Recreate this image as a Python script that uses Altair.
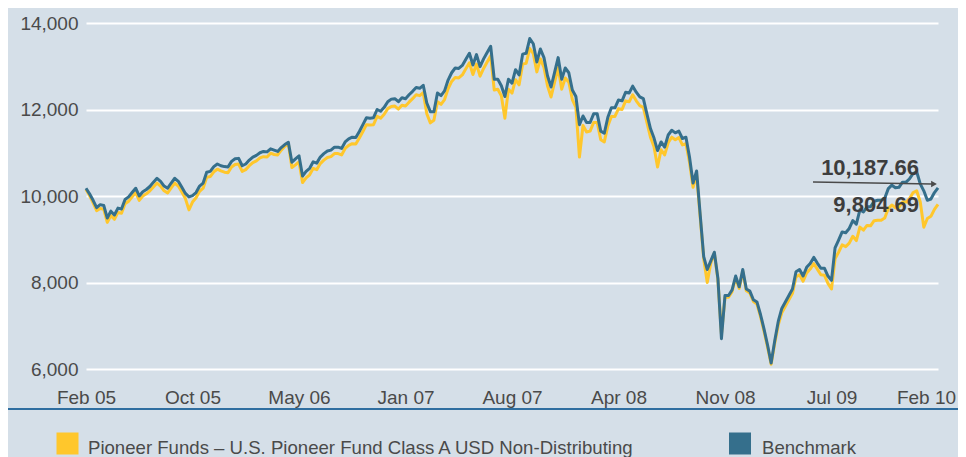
import json
import numpy as np
import pandas as pd
import altair as alt

FUND = "Pioneer Funds – U.S. Pioneer Fund Class A USD Non-Distributing"
BENCH = "Benchmark"

x_labels = ["Feb 05", "Oct 05", "May 06", "Jan 07", "Aug 07", "Apr 08", "Nov 08", "Jul 09", "Feb 10"]
y_ticks = [6000, 8000, 10000, 12000, 14000]

# weekly observations (quarter-month steps), Feb 05 .. Feb 10
bench = [
    10180, 10050, 9900, 9730, 9800, 9780, 9490, 9650, 9560, 9720,
    9700, 9920, 9980, 10080, 10180, 10000, 10100, 10150, 10220, 10320,
    10410, 10340, 10230, 10180, 10300, 10410, 10340, 10200, 10060, 9980,
    10010, 10080, 10230, 10300, 10550, 10570, 10680, 10740, 10700, 10680,
    10670, 10800, 10860, 10870, 10700, 10740, 10830, 10900, 10940, 11000,
    11030, 11020, 11090, 11060, 11030, 11120, 11190, 11240, 10780, 10860,
    10930, 10460, 10570, 10640, 10790, 10760, 10900, 10980, 11040, 11060,
    11130, 11130, 11100, 11250, 11320, 11360, 11350, 11490, 11650, 11810,
    11800, 11810, 12000, 11960, 12050, 12180, 12240, 12250, 12180, 12270,
    12250, 12340, 12420, 12510, 12490, 12560, 12150, 11950, 11950, 12380,
    12320, 12430, 12680, 12850, 12960, 12950, 13020, 13160, 13300, 13030,
    13270, 12990, 13170, 13320, 13460, 12700, 12700, 12550, 12300, 12700,
    12610, 12920, 12800, 13280, 13300, 13640, 13520, 13100, 13400, 13200,
    12780, 12520, 12860, 13200, 12700, 12960, 12850, 12450, 12300, 11650,
    11850, 11700, 11700, 11900, 11900, 11500, 11450, 11820, 12040, 12040,
    12220, 12200, 12400, 12380, 12540, 12400, 12290, 12250, 11900, 11560,
    11340, 11050, 11250, 11130, 11410, 11520, 11460, 11500, 11330, 11360,
    10900, 10300, 10580, 9580, 8600, 8300, 8500, 8700, 8100, 6700,
    7700, 7700, 7830, 8150, 7900, 8300, 7850, 7800, 7600, 7550,
    7260, 6920, 6550, 6140, 6650, 7100, 7400, 7550, 7700, 7850,
    8250, 8300, 8150, 8350, 8440, 8580, 8450, 8330, 8330, 8150,
    8050, 8800, 8980, 9170, 9150, 9250, 9430, 9350, 9680, 9630,
    9750, 9750, 9880, 9900, 9900, 9950, 10170, 10250, 10190, 10200,
    10320, 10320, 10400, 10520, 10560, 10280, 10120, 9900, 9930, 10080,
    10187.66,
]

fund = [
    10150, 10010, 9840, 9660, 9710, 9690, 9390, 9550, 9460, 9620,
    9600, 9820, 9880, 9980, 10080, 9900, 10000, 10050, 10120, 10210,
    10300, 10230, 10120, 10070, 10190, 10300, 10230, 10090, 9940, 9680,
    9860, 9960, 10110, 10180, 10430, 10450, 10560, 10620, 10580, 10550,
    10540, 10670, 10730, 10740, 10570, 10610, 10700, 10770, 10810, 10880,
    10910, 10900, 10990, 10960, 10950, 11060, 11150, 11210, 10660, 10720,
    10790, 10310, 10420, 10490, 10640, 10610, 10750, 10830, 10890, 10910,
    10980, 10980, 10950, 11100, 11170, 11210, 11200, 11340, 11490, 11650,
    11640, 11650, 11840, 11800, 11890, 12020, 12070, 12080, 12010, 12100,
    12080, 12170, 12250, 12340, 12320, 12390, 11900, 11690, 11750, 12180,
    12120, 12230, 12480, 12650, 12740, 12730, 12800, 12940, 13080, 12810,
    13050, 12770, 12950, 13100, 13240, 12450, 12470, 12320, 11800, 12470,
    12380, 12690, 12570, 13050, 13070, 13410, 13290, 12870, 13170, 12970,
    12550, 12290, 12630, 12970, 12470, 12730, 12630, 12230, 12050, 10900,
    11630, 11480, 11500, 11700, 11700, 11300, 11250, 11620, 11840, 11840,
    12020, 12000, 12200, 12180, 12340, 12200, 12090, 12050, 11700, 11360,
    11140, 10670, 11070, 10950, 11230, 11360, 11300, 11350, 11180, 11210,
    10780, 10200, 10500, 9520, 8550, 8000, 8450, 8680, 8060, 6800,
    7660, 7660, 7790, 8110, 7860, 8260, 7810, 7760, 7560, 7500,
    7210, 6870, 6500, 6110, 6590, 7020, 7300, 7450, 7600, 7750,
    8130, 8180, 8030, 8220, 8310, 8440, 8310, 8180, 8170, 7980,
    7850, 8550, 8700, 8870, 8830, 8910, 9070, 8970, 9280, 9210,
    9320, 9310, 9430, 9440, 9440, 9490, 9710, 9790, 9730, 9740,
    9860, 9860, 9940, 10080, 10120, 9860, 9280, 9480, 9530, 9690,
    9804.69,
]

months = np.arange(len(bench)) * 0.25  # months since Feb 05

df = pd.concat([
    pd.DataFrame({"t": months, "v": fund, "series": FUND}),
    pd.DataFrame({"t": months, "v": bench, "series": BENCH}),
])

FONT = "Liberation Sans"
TXT = "#4a4a4a"
BG = "#d5dfe8"
YELLOW = "#ffc72c"
BLUE = "#356f8c"

label_expr = json.dumps(x_labels) + "[round(datum.value / 7.5)]"

color = alt.Color(
    "series:N",
    scale=alt.Scale(domain=[FUND, BENCH], range=[YELLOW, BLUE]),
    legend=None,
)

x = alt.X(
    "t:Q",
    scale=alt.Scale(domain=[0, 60], nice=False, zero=False),
    axis=alt.Axis(
        values=[i * 7.5 for i in range(len(x_labels))], labelExpr=label_expr,
        grid=False, ticks=False, tickSize=0, domain=False, title=None,
        labelFontSize=19, labelFont=FONT, labelColor=TXT, labelPadding=19,
        labelFlush=False, labelOverlap=False,
        labelOffset={"condition": {"test": "datum.value >= 60", "value": -12}, "value": 0},
    ),
)
y = alt.Y(
    "v:Q",
    scale=alt.Scale(domain=[6000, 14000], nice=False, zero=False),
    axis=alt.Axis(
        values=y_ticks, format=",.0f", grid=True, gridColor="white", gridWidth=2,
        ticks=False, tickSize=0, domain=False, title=None,
        labelFontSize=19, labelFont=FONT, labelColor=TXT, labelPadding=8,
    ),
)

base = alt.Chart(df)
fund_line = base.transform_filter(alt.datum.series == FUND).mark_line(
    strokeWidth=3, strokeJoin="round").encode(x=x, y=y, color=color)
bench_line = base.transform_filter(alt.datum.series == BENCH).mark_line(
    strokeWidth=3, strokeJoin="round").encode(x=x, y=y, color=color)

bottom_rule = alt.Chart(pd.DataFrame({"a": [0]})).mark_rule(
    color="#2f6ea0", strokeWidth=2).encode(
    x=alt.value(-80), x2=alt.value(900), y=alt.value(386))

# legend (built by hand: squares + labels)
leg = pd.DataFrame({
    "series": [FUND, BENCH],
    "sx": [-18.5, 654],
    "tx": [2, 676],
})
leg_sq = alt.Chart(leg).mark_square(size=484, opacity=1, strokeWidth=0).encode(
    x=alt.X("sx:Q", scale=None), y=alt.value(420.5), color=color)
leg_tx = alt.Chart(leg).mark_text(
    font=FONT, fontSize=18.6, color=TXT, align="left", baseline="alphabetic").encode(
    x=alt.X("tx:Q", scale=None), y=alt.value(431), text="series:N")

ann = pd.DataFrame({
    "txt": [f"{bench[-1]:,.2f}", f"{fund[-1]:,.2f}"],
    "yy": [152, 189],
})
ann_text = alt.Chart(ann).mark_text(
    font=FONT, fontSize=22, fontWeight="bold", color="#3d3d3d",
    align="right", baseline="alphabetic").encode(
    x=alt.value(833), y=alt.Y("yy:Q", scale=None), text="txt:N")

arrow_line = alt.Chart(pd.DataFrame({"a": [0]})).mark_rule(
    color="#4a4a4a", strokeWidth=1.5).encode(
    x=alt.value(727), x2=alt.value(846), y=alt.value(159), y2=alt.value(161))
arrow_head = alt.Chart(pd.DataFrame({"a": [0]})).mark_point(
    shape="triangle-right", filled=True, color="#4a4a4a", size=45, opacity=1).encode(
    x=alt.value(848), y=alt.value(161))

chart = alt.layer(
    fund_line, bench_line, bottom_rule, leg_sq, leg_tx, ann_text, arrow_line, arrow_head
).properties(
    width=852, height=346,
    padding={"left": 78, "top": 15, "right": 20, "bottom": 88},
    autosize=alt.AutoSizeParams(type="none"),
    background=BG,
).configure_view(stroke=None)

chart.save("out.html", embed_options={"renderer": "svg", "actions": False})
